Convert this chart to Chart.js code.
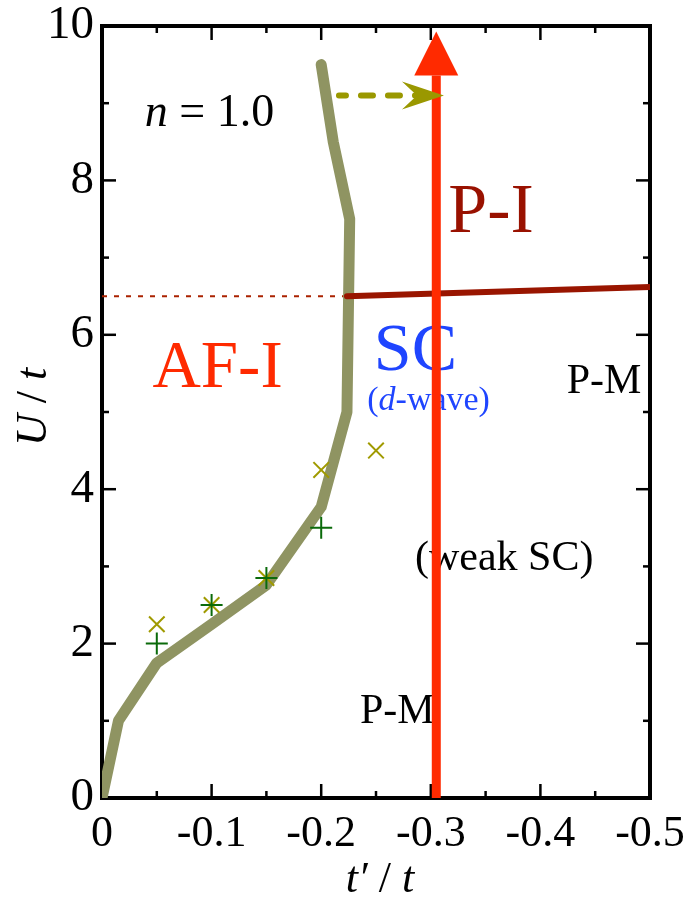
<!DOCTYPE html>
<html><head><meta charset="utf-8">
<script src="https://cdn.jsdelivr.net/npm/chart.js@4.4.1/dist/chart.umd.min.js"></script>
<style>html,body{margin:0;padding:0;background:#fff}#wrap{width:688px;height:902px;position:relative}</style>
</head><body><div id="wrap"><canvas id="c"></canvas></div>
<script>
// ---- data ----
const boundaryX = [0, -0.015, -0.05, -0.1, -0.15, -0.2, -0.2235, -0.226, -0.211, -0.2];
const boundaryU = [0, 1.0, 1.75, 2.25, 2.76, 3.77, 5.0, 7.5, 8.5, 9.5];
const plusX = [-0.05, -0.1, -0.15, -0.2];
const plusU = [2.0, 2.5, 2.85, 3.5];
const crossX = [-0.05, -0.1, -0.15, -0.2, -0.25];
const crossU = [2.25, 2.5, 2.85, 4.25, 4.5];
const piLineX = [-0.2235, -0.5];
const piLineU = [6.5, 6.62];
const guideX = [0, -0.2235];
const guideU = [6.5, 6.5];
const redX = [-0.305, -0.305];
const redU = [0, 9.36];
const arrowX = [-0.2162, -0.300];
const arrowU = [9.1, 9.1];
const arrowTipX = -0.312;
const xTickValues = [0, -0.1, -0.2, -0.3, -0.4, -0.5];
const xTickLabels = ['0', '-0.1', '-0.2', '-0.3', '-0.4', '-0.5'];
const xMinorValues = [-0.05, -0.15, -0.25, -0.35, -0.45];
const yTickValues = [0, 2, 4, 6, 8, 10];
const yTickLabels = ['0', '2', '4', '6', '8', '10'];
const yMinorValues = [1, 3, 5, 7, 9];
const regionLabels = [
  {x: -0.039, u: 8.70, size: 46, color: '#000', parts: [['n', true], [' = 1.0', false]]},
  {x: -0.316, u: 7.33, size: 70, color: '#991100', parts: [['P-I', false]]},
  {x: -0.046, u: 5.32, size: 67, color: '#ff2a00', parts: [['AF-I', false]]},
  {x: -0.248, u: 5.54, size: 68, color: '#1f45ff', parts: [['SC', false]]},
  {x: -0.242, u: 5.03, size: 34, color: '#1f45ff', parts: [['(', false], ['d', true], ['-wave)', false]]},
  {x: -0.424, u: 5.25, size: 42, color: '#000', parts: [['P-M', false]]},
  {x: -0.2856, u: 2.95, size: 42, color: '#000', parts: [['(weak SC)', false]]},
  {x: -0.2354, u: 0.97, size: 42, color: '#000', parts: [['P-M', false]]}
];
const xTitleParts = [['t\u2032', true], [' / ', false], ['t', true]];
const yTitleParts = [['U', true], [' / ', false], ['t', true]];

const FONT = "'Liberation Serif', 'Times New Roman', serif";
const pts = (xs, us) => xs.map((v, i) => ({x: v, y: us[i]}));

function drawParts(ctx, parts, size, x, y, align) {
  let total = 0;
  const w = parts.map(([t, it]) => { ctx.font = (it ? 'italic ' : '') + size + 'px ' + FONT; const m = ctx.measureText(t).width; total += m; return m; });
  let cx = align === 'center' ? x - total / 2 : x;
  ctx.textAlign = 'left';
  ctx.textBaseline = 'alphabetic';
  parts.forEach(([t, it], i) => { ctx.font = (it ? 'italic ' : '') + size + 'px ' + FONT; ctx.fillText(t, cx, y); cx += w[i]; });
}

const deco = {
  id: 'deco',
  beforeDatasetsDraw(chart) {
    const {ctx, chartArea: a, scales: {x, y}} = chart;
    ctx.save();
    ctx.strokeStyle = '#000';
    ctx.lineWidth = 2.5;
    const tick = (px, py, dx, dy) => { ctx.beginPath(); ctx.moveTo(px, py); ctx.lineTo(px + dx, py + dy); ctx.stroke(); };
    xTickValues.forEach(v => { const p = x.getPixelForValue(v); tick(p, a.bottom, 0, -14); tick(p, a.top, 0, 14); });
    xMinorValues.forEach(v => { const p = x.getPixelForValue(v); tick(p, a.bottom, 0, -7); tick(p, a.top, 0, 7); });
    yTickValues.forEach(v => { const p = y.getPixelForValue(v); tick(a.left, p, 14, 0); tick(a.right, p, -14, 0); });
    yMinorValues.forEach(v => { const p = y.getPixelForValue(v); tick(a.left, p, 7, 0); tick(a.right, p, -7, 0); });
    ctx.lineWidth = 4;
    ctx.strokeRect(a.left, a.top, a.right - a.left, a.bottom - a.top);
    regionLabels.forEach(l => {
      ctx.fillStyle = l.color;
      drawParts(ctx, l.parts, l.size, x.getPixelForValue(l.x), y.getPixelForValue(l.u), 'left');
    });
    ctx.restore();
  },
  afterDatasetsDraw(chart) {
    const {ctx, scales: {x, y}} = chart;
    ctx.save();
    const rx = x.getPixelForValue(redX[1]), ry = y.getPixelForValue(redU[1]);
    ctx.fillStyle = '#ff2a00';
    ctx.beginPath(); ctx.moveTo(rx - 22, ry); ctx.lineTo(rx + 22, ry); ctx.lineTo(rx, ry - 44); ctx.closePath(); ctx.fill();
    const tx = x.getPixelForValue(arrowTipX), ty = y.getPixelForValue(arrowU[1]);
    ctx.fillStyle = '#9a9800';
    ctx.beginPath(); ctx.moveTo(tx, ty); ctx.lineTo(tx - 42, ty - 14); ctx.lineTo(tx - 27, ty); ctx.lineTo(tx - 42, ty + 14); ctx.closePath(); ctx.fill();
    ctx.restore();
  },
  afterDraw(chart) {
    const {ctx} = chart;
    ctx.save();
    ctx.fillStyle = '#000';
    drawParts(ctx, xTitleParts, 44, 380, 892, 'center');
    ctx.translate(46, 407);
    ctx.rotate(-Math.PI / 2);
    drawParts(ctx, yTitleParts, 44, 0, 0, 'center');
    ctx.restore();
  }
};

const noPad = s => { s.paddingLeft = 0; s.paddingRight = 0; s.paddingTop = 0; s.paddingBottom = 0; };

new Chart(document.getElementById('c'), {
  type: 'scatter',
  data: {
    datasets: [
      {data: pts(plusX, plusU), pointStyle: 'cross', pointRadius: 11, borderColor: '#0a6a0a', backgroundColor: '#0a6a0a', pointBorderWidth: 2, showLine: false},
      {data: pts(crossX, crossU), pointStyle: 'crossRot', pointRadius: 11, borderColor: '#a09a00', backgroundColor: '#a09a00', pointBorderWidth: 2, showLine: false},
      {data: pts(arrowX, arrowU), showLine: true, borderColor: '#9a9800', borderWidth: 6, borderDash: [12, 15], borderDashOffset: 5, borderCapStyle: 'round', pointRadius: 0},
      {data: pts(redX, redU), showLine: true, borderColor: '#ff2a00', borderWidth: 9, borderCapStyle: 'butt', pointRadius: 0},
      {data: pts(piLineX, piLineU), showLine: true, borderColor: '#991500', borderWidth: 6, borderCapStyle: 'round', pointRadius: 0},
      {data: pts(boundaryX, boundaryU), showLine: true, borderColor: '#8f9462', borderWidth: 11, borderCapStyle: 'round', borderJoinStyle: 'round', pointRadius: 0, tension: 0},
      {data: pts(guideX, guideU), showLine: true, borderColor: '#aa2200', borderWidth: 2, borderDash: [5, 7], pointRadius: 0}
    ]
  },
  options: {
    responsive: true,
    maintainAspectRatio: false,
    animation: false,
    events: [],
    layout: {padding: {left: 0, top: 26, right: 38, bottom: 0}},
    plugins: {legend: {display: false}, tooltip: {enabled: false}},
    scales: {
      x: {
        type: 'linear', min: -0.5, max: 0, reverse: true,
        afterBuildTicks: s => { s.ticks = xTickValues.map(v => ({value: v})); },
        afterFit: s => { s.height = 104; noPad(s); },
        grid: {display: false, drawTicks: false},
        border: {display: false},
        ticks: {padding: 10, color: '#000', font: {family: FONT, size: 44}, maxRotation: 0, autoSkip: false,
          callback: (v, i) => xTickLabels[i]}
      },
      y: {
        type: 'linear', min: 0, max: 10,
        afterBuildTicks: s => { s.ticks = yTickValues.map(v => ({value: v})); },
        afterFit: s => { s.width = 102; noPad(s); },
        grid: {display: false, drawTicks: false},
        border: {display: false},
        ticks: {padding: 8, color: '#000', font: {family: FONT, size: 47}, autoSkip: false,
          callback: (v, i) => yTickLabels[i]}
      }
    }
  },
  plugins: [deco]
});
</script>
</body></html>
